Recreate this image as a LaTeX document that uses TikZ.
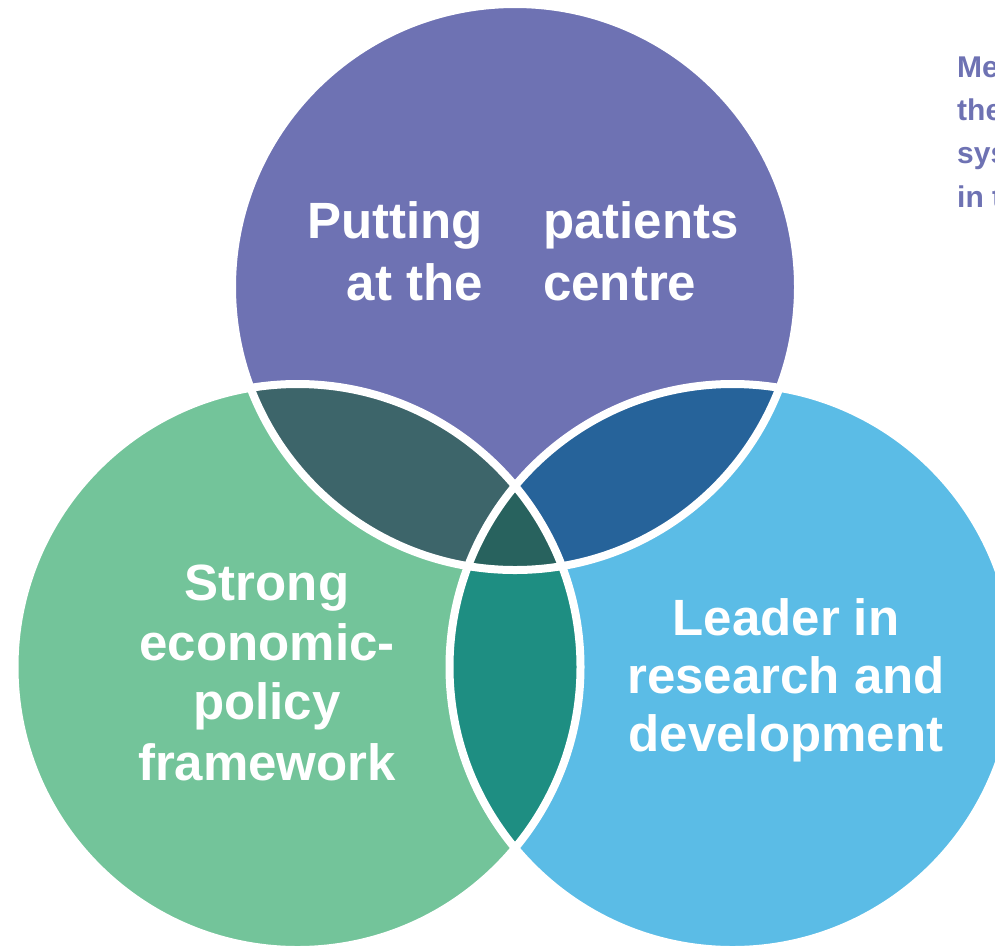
\documentclass[tikz,border=0pt]{standalone}
\usepackage{fontspec}
\setmainfont{Liberation Sans}
\definecolor{cPurple}{HTML}{6E72B3}
\definecolor{cGreen}{HTML}{73C49A}
\definecolor{cBlue}{HTML}{5BBCE6}
\definecolor{cPG}{HTML}{3D656A}
\definecolor{cPB}{HTML}{26639A}
\definecolor{cGB}{HTML}{1E8E82}
\definecolor{cAll}{HTML}{28625E}
\tikzset{
  bigtext/.style={text=white, inner sep=0pt, font=\fontsize{51}{60}\selectfont\bfseries},
  sidetext/.style={text=cPurple, inner sep=0pt, anchor=base west, font=\fontsize{30}{44}\selectfont\bfseries},
  ring/.style={draw=white, line width=8pt}
}
\begin{document}
\begin{tikzpicture}[x=1pt,y=-1pt]
\useasboundingbox (0,0) rectangle (995,946);
\coordinate (P) at (515,287);
\coordinate (G) at (297.5,667);
\coordinate (B) at (732.5,667);
\def\R{283pt}
% base discs
\fill[cPurple] (P) circle[radius=\R];
\fill[cGreen] (G) circle[radius=\R];
\fill[cBlue] (B) circle[radius=\R];
% pairwise overlaps
\begin{scope}
  \clip (P) circle[radius=\R];
  \fill[cPG] (G) circle[radius=\R];
\end{scope}
\begin{scope}
  \clip (P) circle[radius=\R];
  \fill[cPB] (B) circle[radius=\R];
\end{scope}
\begin{scope}
  \clip (G) circle[radius=\R];
  \fill[cGB] (B) circle[radius=\R];
\end{scope}
\begin{scope}
  \clip (P) circle[radius=\R];
  \clip (G) circle[radius=\R];
  \fill[cAll] (B) circle[radius=\R];
\end{scope}
% white rings
\draw[ring] (P) circle[radius=\R];
\draw[ring] (G) circle[radius=\R];
\draw[ring] (B) circle[radius=\R];
% top circle text
\node[bigtext, anchor=base east] (t1) at (483,238) {Putting};
\node[bigtext, anchor=base east] (t2) at (483,300) {at the};
\node[bigtext, anchor=base west] (t3) at (543,238) {patients};
\node[bigtext, anchor=base west] (t4) at (543,300) {centre};
% green circle text
\node[bigtext, anchor=base] (g1) at (267,600) {Strong};
\node[bigtext, anchor=base] (g2) at (267,660) {economic-};
\node[bigtext, anchor=base] (g3) at (267,719) {policy};
\node[bigtext, anchor=base] (g4) at (267,780) {framework};
% blue circle text
\node[bigtext, anchor=base] (b1) at (786,635) {Leader in};
\node[bigtext, anchor=base] (b2) at (786,693) {research and};
\node[bigtext, anchor=base] (b3) at (786,751) {development};
% side text (cut off)
\node[sidetext] (s1) at (957,77) {Me};
\node[sidetext] (s2) at (957,120) {the};
\node[sidetext] (s3) at (957,163) {sys};
\node[sidetext] (s4) at (957,207) {in t};
\end{tikzpicture}
\end{document}
